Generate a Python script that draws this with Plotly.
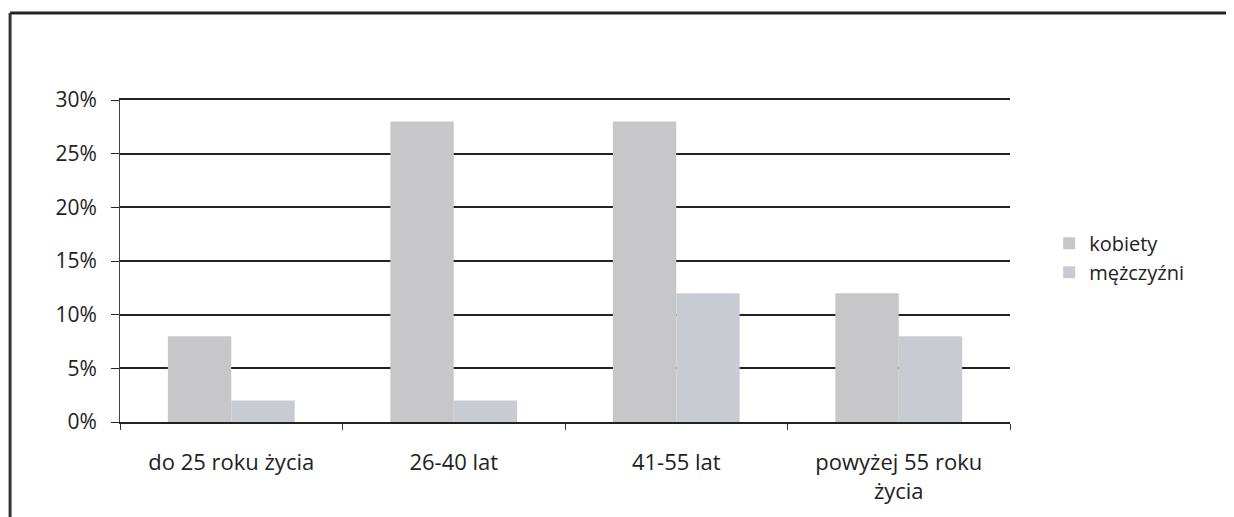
import plotly.graph_objects as go

categories = ["do 25 roku życia", "26-40 lat", "41-55 lat", "powyżej 55 roku<br>życia"]
kobiety = [0.08, 0.28, 0.28, 0.12]
mezczyzni = [0.02, 0.02, 0.12, 0.08]
series_names = ["kobiety", "mężczyźni"]
y_ticks = [0, 0.05, 0.10, 0.15, 0.20, 0.25, 0.30]
y_tick_labels = ["0%", "5%", "10%", "15%", "20%", "25%", "30%"]

FONT = "Open Sans, Noto Sans, sans-serif"

fig = go.Figure()
fig.add_trace(go.Bar(name=series_names[0], x=categories, y=kobiety,
                     marker=dict(color="#c7c7c9", line=dict(width=0))))
fig.add_trace(go.Bar(name=series_names[1], x=categories, y=mezczyzni,
                     marker=dict(color="#c9cbd2", line=dict(width=0))))

fig.update_layout(
    width=1226, height=509,
    margin=dict(l=112, r=224, t=92, b=95),
    paper_bgcolor="white", plot_bgcolor="white",
    barmode="group", bargap=0.43, bargroupgap=0,
    font=dict(family=FONT, size=21, color="#222222"),
    showlegend=True,
    legend=dict(x=1.044, y=0.51, xanchor="left", yanchor="middle",
                font=dict(family=FONT, size=20, color="#222222"),
                itemsizing="constant", bgcolor="rgba(0,0,0,0)"),
    xaxis=dict(type="category", showgrid=False, showline=True, linecolor="#222222", linewidth=2,
               mirror=True,
               ticks="outside", tickson="boundaries", ticklen=6, tickcolor="#333333",
               ticklabelstandoff=20,
               tickfont=dict(family=FONT, size=22, color="#222222")),
    yaxis=dict(range=[0, 0.30], tickvals=y_ticks, ticktext=y_tick_labels,
               showgrid=True, gridcolor="#222222", gridwidth=2,
               showline=True, linecolor="#444444", linewidth=1,
               ticks="outside", ticklen=8, tickcolor="#222222",
               ticklabelstandoff=10,
               zeroline=False, tickfont=dict(family=FONT, size=21, color="#222222")),
    shapes=[
        dict(type="line", xref="paper", yref="paper", x0=-0.1235, x1=1.26, y0=1.27, y1=1.27,
             line=dict(color="#222222", width=3)),
        dict(type="line", xref="paper", yref="paper", x0=-0.1235, x1=-0.1235, y0=-0.3, y1=1.27,
             line=dict(color="#333333", width=3)),
    ],
)

fig.write_html("out.html")
